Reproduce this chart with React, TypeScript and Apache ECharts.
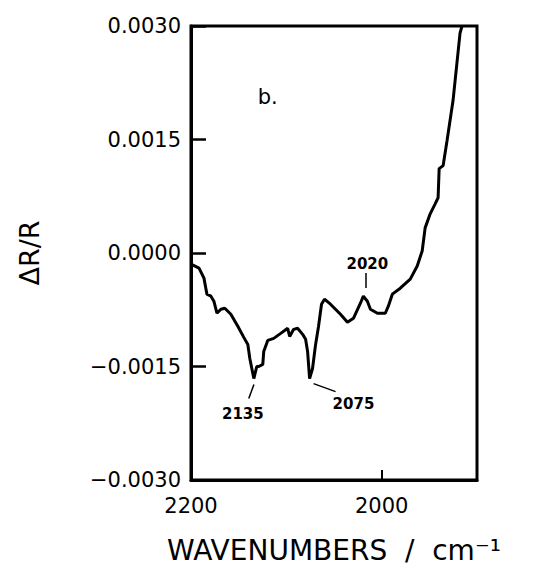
import React, { useEffect, useRef } from "react";
import * as echarts from "echarts";

// Spectrum (wavenumber in cm^-1, ΔR/R)
const wavenumbers = [
  2200, 2191.6, 2186.4, 2183.3, 2179.1, 2176.0, 2172.8, 2168.6, 2164.5, 2158.2,
  2150.9, 2144.6, 2140.4, 2138.3, 2134.1, 2131.0, 2128.9, 2124.7, 2123.7, 2119.5,
  2113.2, 2105.9, 2098.6, 2096.5, 2092.3, 2088.2, 2082.9, 2079.8, 2077.7, 2075.6,
  2072.5, 2069.3, 2066.2, 2063.1, 2060.0, 2053.7, 2043.2, 2035.9, 2029.6, 2022.3,
  2019.2, 2015.0, 2011.8, 2004.5, 1996.2, 1993.0, 1988.8, 1980.5, 1970.0, 1962.7,
  1957.5, 1954.4, 1949.1, 1943.9, 1940.8, 1939.7, 1935.5, 1931.4, 1925.1, 1917.8,
  1915.7,
];
const dRR = [
  -0.000146, -0.000199, -0.000332, -0.000544, -0.000571, -0.000637, -0.000796, -0.000743, -0.00073, -0.00081,
  -0.000969, -0.001115, -0.001208, -0.001394, -0.001659, -0.0015, -0.0015, -0.001473, -0.001301, -0.001155,
  -0.001128, -0.001062, -0.000995, -0.001102, -0.001009, -0.000995, -0.001075, -0.001141, -0.001301, -0.001659,
  -0.001526, -0.001208, -0.000969, -0.000677, -0.00061, -0.000677, -0.00081, -0.000916, -0.000863, -0.000664,
  -0.000571, -0.000637, -0.000743, -0.000796, -0.000796, -0.000703, -0.000544, -0.000465, -0.000345, -0.000172,
  0.000027, 0.000332, 0.000518, 0.00065, 0.00073, 0.001115, 0.001155, 0.001487, 0.002018, 0.002907,
  0.003,
];

// Peak annotations
const peakNames = ["2020", "2135", "2075"];
const peakLabelWn = [2015, 2145.6, 2029.6];
const peakLabelVal = [-0.000146, -0.002124, -0.001991];
const leaderStartWn = [2017, 2134, 2071.4];
const leaderStartVal = [-0.000265, -0.001739, -0.001726];
const leaderEndWn = [2017, 2139.4, 2048.4];
const leaderEndVal = [-0.000464, -0.001924, -0.001832];

const panelLabel = "b.";
const panelLabelWn = 2119.5;
const panelLabelVal = 0.002058;

const xLabelValues = [2200, 2000];
const xTickValues = [2000];

const FONT = "DejaVu Sans";

export default function App() {
  const ref = useRef<HTMLDivElement>(null);
  useEffect(() => {
    if (!ref.current) return;
    const chart = echarts.init(ref.current, null, { renderer: "svg" });
    const data = wavenumbers.map((w, i) => [w, dRR[i]]);
    const leaders = leaderStartWn.map((w, i) => [
      { coord: [w, leaderStartVal[i]] },
      { coord: [leaderEndWn[i], leaderEndVal[i]] },
    ]);
    const labels: any[] = peakNames.map((n, i) => ({
      name: n,
      coord: [peakLabelWn[i], peakLabelVal[i]],
      label: { fontSize: 15, fontWeight: "bold" },
    }));
    labels.push({
      name: panelLabel,
      coord: [panelLabelWn, panelLabelVal],
      label: { fontSize: 21, fontWeight: "normal" },
    });
    chart.setOption({
      animation: false,
      backgroundColor: "#fff",
      grid: {
        left: 182,
        right: 81,
        top: 18,
        bottom: 106,
        show: true,
        borderColor: "#000",
        borderWidth: 3,
        backgroundColor: "transparent",
      },
      xAxis: {
        type: "value",
        min: 1900,
        max: 2200,
        inverse: true,
        interval: 100,
        splitLine: { show: false },
        axisLine: { show: true, onZero: false, lineStyle: { color: "#000", width: 3 } },
        axisTick: {
          show: true,
          inside: true,
          length: 10,
          customValues: xTickValues,
          lineStyle: { color: "#000", width: 2 },
        },
        axisLabel: {
          customValues: xLabelValues,
          color: "#000",
          fontFamily: FONT,
          fontSize: 21,
          margin: 15,
          formatter: (v: number) => String(v),
        },
        name: "WAVENUMBERS  /  cm⁻¹",
        nameLocation: "middle",
        nameGap: 56,
        nameTextStyle: { color: "#000", fontFamily: FONT, fontSize: 28 },
      },
      yAxis: {
        type: "value",
        min: -0.003,
        max: 0.003,
        interval: 0.0015,
        splitLine: { show: false },
        axisLine: { show: true, onZero: false, lineStyle: { color: "#000", width: 3 } },
        axisTick: {
          show: true,
          inside: true,
          length: 15,
          lineStyle: { color: "#000", width: 2.5 },
        },
        axisLabel: {
          color: "#000",
          fontFamily: FONT,
          fontSize: 21,
          margin: 10,
          formatter: (v: number) => {
            const s = Math.abs(v) < 1e-9 ? "0.0000" : v.toFixed(4);
            return s.replace("-", "−");
          },
        },
        name: "ΔR/R",
        nameLocation: "middle",
        nameRotate: 90,
        nameGap: 148,
        nameTextStyle: { color: "#000", fontFamily: FONT, fontSize: 27, padding: [0, 0, 0, 0] },
      },
      series: [
        {
          type: "line",
          data,
          symbol: "none",
          smooth: false,
          clip: true,
          lineStyle: { color: "#000", width: 3 },
          markLine: {
            silent: true,
            symbol: "none",
            label: { show: false },
            lineStyle: { color: "#000", width: 1.5, type: "solid" },
            data: leaders,
          },
          markPoint: {
            silent: true,
            symbol: "circle",
            symbolSize: 0,
            label: {
              show: true,
              position: "inside",
              formatter: "{b}",
              color: "#000",
              fontFamily: FONT,
            },
            data: labels,
          },
        },
      ],
    });
    return () => chart.dispose();
  }, []);
  return <div ref={ref} style={{ width: 550, height: 578 }} />;
}
